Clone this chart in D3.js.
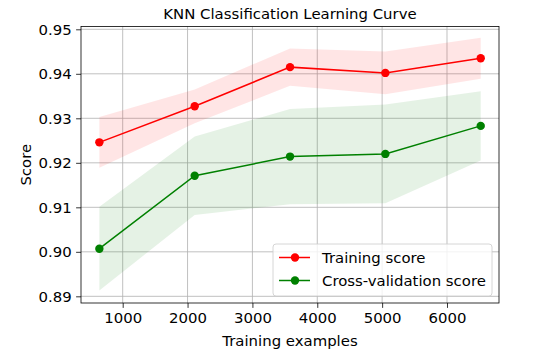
<!DOCTYPE html>
<html>
<head>
<meta charset="utf-8">
<script src="https://cdn.jsdelivr.net/npm/d3@7"></script>
<style>
  body { margin: 0; background: #fff; }
  text { font-family: "DejaVu Sans", sans-serif; fill: #000; }
</style>
</head>
<body>
<svg width="549" height="363"></svg>
<script>
// training set sizes
var trainSizes = [640, 2110, 3580, 5050, 6520];
// mean scores
var trainMean = [0.9246, 0.9327, 0.9415, 0.9402, 0.9435];
var testMean = [0.9007, 0.9171, 0.9214, 0.9220, 0.9283];
// std bands
var trainStd = [0.0057, 0.0038, 0.0042, 0.0048, 0.0046];
var testStd = [0.0094, 0.0088, 0.0107, 0.0111, 0.0078];
var xTicks = [1000, 2000, 3000, 4000, 5000, 6000];
var yTicks = [0.89, 0.90, 0.91, 0.92, 0.93, 0.94, 0.95];

var fs = "14.9px";
var margin = { top: 26.5, right: 50, bottom: 60, left: 81 },
    width = 499 - margin.left,
    height = 303 - margin.top;

var svg = d3.select("svg");
var g = svg.append("g")
    .attr("transform", "translate(" + margin.left + "," + margin.top + ")");

var x = d3.scaleLinear().domain([357, 6802]).range([0, width]);
var y = d3.scaleLinear().domain([0.8885, 0.95063]).range([height, 0]);

var train = trainSizes.map(function (s, i) { return { s: s, m: trainMean[i], sd: trainStd[i] }; });
var test = trainSizes.map(function (s, i) { return { s: s, m: testMean[i], sd: testStd[i] }; });

// grid
g.append("g").selectAll("line").data(xTicks).enter().append("line")
    .attr("x1", function (d) { return x(d); }).attr("x2", function (d) { return x(d); })
    .attr("y1", 0).attr("y2", height)
    .attr("stroke", "#b0b0b0").attr("stroke-width", 0.8);
g.append("g").selectAll("line").data(yTicks).enter().append("line")
    .attr("y1", function (d) { return y(d); }).attr("y2", function (d) { return y(d); })
    .attr("x1", 0).attr("x2", width)
    .attr("stroke", "#b0b0b0").attr("stroke-width", 0.8);

var area = d3.area()
    .x(function (d) { return x(d.s); })
    .y0(function (d) { return y(d.m - d.sd); })
    .y1(function (d) { return y(d.m + d.sd); });

var line = d3.line()
    .x(function (d) { return x(d.s); })
    .y(function (d) { return y(d.m); });

var series = [
    { data: train, color: "#ff0000", name: "Training score" },
    { data: test, color: "#008000", name: "Cross-validation score" }
];

series.forEach(function (s) {
    g.append("path").datum(s.data)
        .attr("d", area)
        .attr("fill", s.color)
        .attr("fill-opacity", 0.1);
});

series.forEach(function (s) {
    g.append("path").datum(s.data)
        .attr("d", line)
        .attr("fill", "none")
        .attr("stroke", s.color)
        .attr("stroke-width", 1.5);
    g.append("g").selectAll("circle").data(s.data).enter().append("circle")
        .attr("cx", function (d) { return x(d.s); })
        .attr("cy", function (d) { return y(d.m); })
        .attr("r", 4.2)
        .attr("fill", s.color);
});

// axes
var xAxis = g.append("g")
    .attr("transform", "translate(0," + height + ")")
    .call(d3.axisBottom(x).tickValues(xTicks).tickSize(4.9).tickPadding(4.5).tickFormat(d3.format("d")));
var yAxis = g.append("g")
    .call(d3.axisLeft(y).tickValues(yTicks).tickSize(4.9).tickPadding(4.5).tickFormat(d3.format(".2f")));
[xAxis, yAxis].forEach(function (a) {
    a.select(".domain").remove();
    a.selectAll("line").attr("stroke", "#000").attr("stroke-width", 0.8);
    a.selectAll("text").style("font-size", fs).attr("fill", "#000");
});

// frame
g.append("rect")
    .attr("width", width).attr("height", height)
    .attr("fill", "none").attr("stroke", "#000").attr("stroke-width", 0.8);

// labels
svg.append("text")
    .attr("x", margin.left + width / 2).attr("y", 19)
    .attr("text-anchor", "middle")
    .style("font-size", fs)
    .text("KNN Classification Learning Curve");
svg.append("text")
    .attr("x", margin.left + width / 2).attr("y", 346)
    .attr("text-anchor", "middle")
    .style("font-size", fs)
    .text("Training examples");
svg.append("text")
    .attr("transform", "translate(31," + (margin.top + height / 2) + ") rotate(-90)")
    .attr("text-anchor", "middle")
    .style("font-size", fs)
    .text("Score");

// legend
var lg = svg.append("g").attr("transform", "translate(273,244)");
lg.append("rect")
    .attr("width", 219).attr("height", 52)
    .attr("rx", 3)
    .attr("fill", "#fff").attr("fill-opacity", 0.8)
    .attr("stroke", "#cccccc").attr("stroke-width", 0.8);
series.forEach(function (s, i) {
    var row = lg.append("g").attr("transform", "translate(0," + (13.5 + i * 23) + ")");
    row.append("line").attr("x1", 6).attr("x2", 37)
        .attr("stroke", s.color).attr("stroke-width", 1.5);
    row.append("circle").attr("cx", 22).attr("r", 4.2).attr("fill", s.color);
    row.append("text").attr("x", 49).attr("dy", "0.35em")
        .style("font-size", fs)
        .text(s.name);
});
</script>
</body>
</html>
